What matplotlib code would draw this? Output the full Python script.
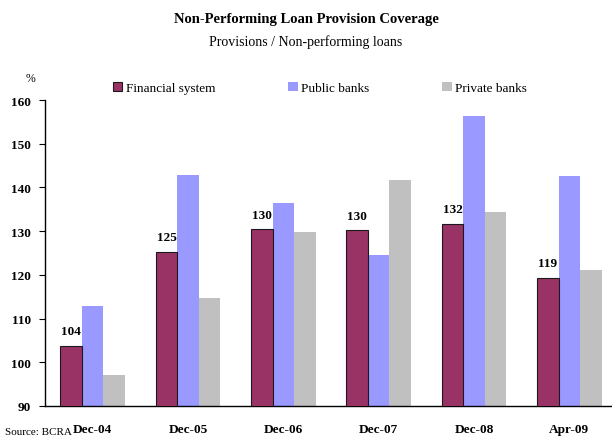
import matplotlib
matplotlib.use('Agg')
import matplotlib.pyplot as plt
import numpy as np

plt.rcParams.update({
    'font.family': ['Liberation Serif', 'DejaVu Serif'],
    'font.size': 9,
})

categories = ['Dec-04', 'Dec-05', 'Dec-06', 'Dec-07', 'Dec-08', 'Apr-09']
financial = [103.8, 125.2, 130.4, 130.2, 131.7, 119.3]
public = [112.9, 142.8, 136.4, 124.5, 156.3, 142.6]
private = [97.1, 114.8, 129.8, 141.8, 134.4, 121.0]
fin_labels = ['104', '125', '130', '130', '132', '119']
yticks = [90, 100, 110, 120, 130, 140, 150, 160]

fig = plt.figure(figsize=(6.12, 4.39), dpi=100)
ax = fig.add_axes([45 / 612, 1 - 407 / 439, 572 / 612, 306 / 439])

x = np.arange(len(categories))
w = 0.225
ax.bar(x - w, financial, w, color='#993366', edgecolor='#1a1a1a', linewidth=0.8,
       label='Financial system', zorder=3)
ax.bar(x, public, w, color='#9999FF', label='Public banks', zorder=2)
ax.bar(x + w, private, w, color='#C0C0C0', label='Private banks', zorder=2)

for xi, v, s in zip(x, financial, fin_labels):
    ax.text(xi - w, v + 2.0, s, ha='center', va='bottom', fontsize=9.5,
            fontweight='bold')

ax.set_ylim(90, 160)
ax.set_xlim(-0.5, len(categories) - 0.5)
ax.set_yticks(yticks)
ax.set_yticklabels([str(t) for t in yticks], fontweight='bold', fontsize=9.5)
ax.set_xticks(x)
ax.set_xticklabels(categories, fontweight='bold', fontsize=9.5)
ax.tick_params(axis='x', length=0, pad=12)
ax.tick_params(axis='y', length=4, width=0.8, direction='out', pad=6)
for s in ['top', 'right']:
    ax.spines[s].set_visible(False)
for s in ['left', 'bottom']:
    ax.spines[s].set_linewidth(1.0)

fig.legend(loc='upper left', bbox_to_anchor=(113 / 612, 1 - 83 / 439), ncol=3,
           frameon=False, handlelength=0.7, handleheight=0.7, handletextpad=0.3,
           columnspacing=5.5, fontsize=9.5, borderaxespad=0, borderpad=0)

fig.text(0.5, 1 - 20 / 439, 'Non-Performing Loan Provision Coverage', ha='center',
         va='center', fontsize=10.5, fontweight='bold')
fig.text(0.5, 1 - 42 / 439, 'Provisions / Non-performing loans', ha='center',
         va='center', fontsize=10)
fig.text(30 / 612, 1 - 79 / 439, '%', ha='center', va='center', fontsize=8.5)
fig.text(5 / 612, 2 / 439, 'Source: BCRA', ha='left', va='bottom', fontsize=8)

fig.savefig('out.png', dpi=100)
